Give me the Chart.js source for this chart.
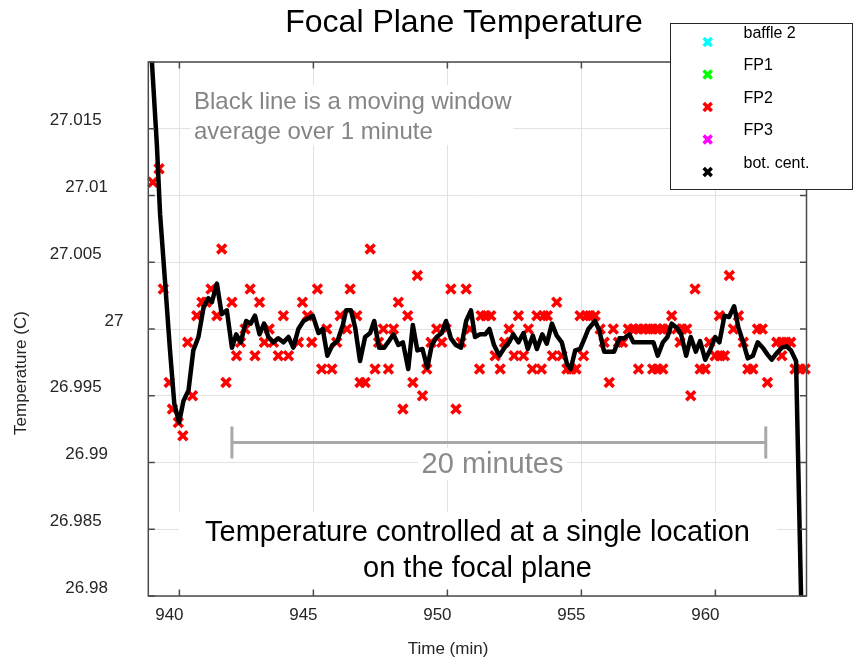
<!DOCTYPE html>
<html>
<head>
<meta charset="utf-8">
<title>Focal Plane Temperature</title>
<script src="https://cdn.jsdelivr.net/npm/chart.js@4.4.0/dist/chart.umd.min.js"></script>
<style>
  html, body { margin: 0; padding: 0; background: #fff; }
  #wrap { width: 853px; height: 659px; }
</style>
</head>
<body>
<div id="wrap"><canvas id="chart" width="853" height="659"></canvas></div>
<script>
// ---- data ----
// FP2 sensor samples (time in min, temperature in C)
const fp2Time = [
  939.01, 939.24, 939.40, 939.62, 939.74, 939.96, 940.13, 940.31, 940.49, 940.65,
  940.84, 941.00, 941.18, 941.40, 941.58, 941.74, 941.96, 942.13, 942.28, 942.45,
  942.64, 942.82, 942.99, 943.17, 943.35, 943.51, 943.69, 943.88, 944.07, 944.44,
  944.59, 944.78, 944.94, 945.15, 945.31, 945.50, 945.69, 945.87, 946.00, 946.25,
  946.37, 946.62, 946.74, 946.93, 947.12, 947.30, 947.43, 947.61, 947.80, 947.99,
  948.17, 948.34, 948.52, 948.71, 948.88, 949.07, 949.23, 949.39, 949.60, 949.79,
  949.95, 950.13, 950.32, 950.51, 950.70, 950.85, 951.20, 951.26, 951.43, 951.62,
  951.78, 951.97, 952.13, 952.30, 952.49, 952.65, 952.84, 953.02, 953.17, 953.34,
  953.51, 953.59, 953.73, 953.92, 954.08, 954.27, 954.46, 954.62, 954.80, 954.95,
  955.08, 955.18, 955.32, 955.51, 955.70, 955.85, 956.04, 956.19, 956.38, 956.54,
  956.75, 956.94, 957.13, 957.13, 957.31, 957.50, 957.66, 957.66, 957.84, 957.84,
  958.04, 958.04, 958.21, 958.37, 958.56, 958.68, 958.75, 958.93, 959.08, 959.24,
  959.43, 959.62, 959.78, 959.99, 960.15, 960.18, 960.34, 960.52, 960.67, 960.86,
  961.04, 961.21, 961.40, 961.57, 961.75, 961.94, 962.29, 962.48, 962.48, 962.64,
  962.81, 962.97, 963.16, 963.35
];
const fp2Temp = [
  27.011, 27.012, 27.003, 26.996, 26.994, 26.993, 26.992, 26.999, 26.995, 27.001,
  27.002, 27.002, 27.003, 27.001, 27.006, 26.996, 27.002, 26.998, 26.999, 27.000,
  27.003, 26.998, 27.002, 26.999, 27.000, 26.999, 26.998, 27.001, 26.998, 26.999,
  27.002, 27.001, 26.999, 27.003, 26.997, 27.000, 26.997, 26.999, 27.001, 27.000,
  27.003, 27.001, 26.996, 26.996, 27.006, 26.997, 26.999, 27.000, 26.997, 27.000,
  27.002, 26.994, 27.001, 26.996, 27.004, 26.995, 26.997, 26.999, 27.000, 26.999,
  27.000, 27.003, 26.994, 26.999, 27.003, 27.000, 26.997, 27.001, 27.001, 27.001,
  26.998, 26.997, 26.999, 27.000, 26.998, 27.001, 26.998, 27.000, 26.997, 27.001,
  26.997, 27.001, 27.001, 26.998, 27.002, 26.998, 26.997, 26.997, 26.997, 27.001,
  26.998, 27.001, 27.001, 27.001, 27.000, 26.999, 26.996, 27.000, 26.999, 26.999,
  27.000, 27.000, 27.000, 26.997, 27.000, 27.000, 27.000, 26.997, 27.000, 26.997,
  27.000, 26.997, 27.000, 27.001, 27.000, 26.999, 27.000, 27.000, 26.995, 27.003,
  26.997, 26.997, 26.999, 26.998, 27.001, 26.998, 26.998, 27.004, 27.000, 27.001,
  26.999, 26.997, 26.997, 27.000, 27.000, 26.996, 26.999, 26.999, 26.998, 26.999,
  26.999, 26.997, 26.997, 26.997
];

// 1 minute moving window average (black line)
const avgTime = [
  938.93, 939.16, 939.28, 939.47, 939.65, 939.81, 939.99, 940.15, 940.34, 940.52,
  940.71, 940.90, 941.08, 941.21, 941.40, 941.58, 941.77, 941.96, 942.12, 942.29,
  942.49, 942.66, 942.82, 942.99, 943.16, 943.32, 943.51, 943.69, 943.88, 944.07,
  944.25, 944.44, 944.63, 944.81, 944.98, 945.19, 945.35, 945.52, 945.71, 945.90,
  946.10, 946.22, 946.40, 946.56, 946.74, 946.93, 947.12, 947.27, 947.45, 947.64,
  947.82, 947.99, 948.17, 948.34, 948.54, 948.71, 948.88, 949.07, 949.25, 949.42,
  949.60, 949.79, 949.95, 950.13, 950.32, 950.51, 950.70, 950.88, 951.03, 951.22,
  951.41, 951.57, 951.74, 951.94, 952.13, 952.30, 952.46, 952.65, 952.84, 953.00,
  953.19, 953.34, 953.54, 953.71, 953.90, 954.08, 954.27, 954.46, 954.60, 954.77,
  954.95, 955.14, 955.26, 955.51, 955.67, 955.85, 956.04, 956.22, 956.42, 956.60,
  956.79, 956.94, 957.13, 957.31, 957.50, 957.69, 957.85, 958.04, 958.21, 958.37,
  958.56, 958.72, 958.91, 959.08, 959.27, 959.43, 959.62, 959.80, 959.99, 960.15,
  960.34, 960.51, 960.70, 960.86, 961.04, 961.21, 961.40, 961.58, 961.77, 961.94,
  962.10, 962.29, 962.48, 962.66, 962.82, 963.01, 963.25
];
const avgTemp = [
  27.0215, 27.0138, 27.0086, 27.0034, 26.9984, 26.9944, 26.9930, 26.9946, 26.9954, 26.9984,
  26.9994, 27.0016, 27.0023, 27.0020, 27.0034, 27.0011, 27.0014, 26.9986, 26.9996, 26.9990,
  27.0006, 27.0004, 27.0010, 26.9996, 27.0004, 26.9994, 26.9990, 26.9993, 26.9990, 26.9994,
  26.9986, 27.0000, 27.0006, 27.0008, 27.0010, 26.9997, 27.0000, 26.9980, 26.9988, 26.9991,
  27.0003, 27.0014, 27.0014, 27.0001, 26.9976, 26.9994, 26.9997, 27.0006, 26.9986, 26.9986,
  26.9991, 26.9996, 26.9988, 26.9990, 26.9970, 27.0003, 26.9984, 26.9985, 26.9971, 26.9988,
  26.9994, 26.9997, 27.0006, 26.9993, 26.9988, 26.9986, 27.0006, 27.0014, 26.9994, 26.9996,
  26.9996, 27.0000, 26.9988, 26.9980, 26.9986, 26.9990, 26.9996, 26.9990, 26.9997, 26.9985,
  26.9995, 26.9985, 26.9996, 26.9989, 27.0004, 26.9995, 26.9990, 26.9974, 26.9970, 26.9984,
  26.9985, 26.9994, 27.0000, 27.0006, 26.9999, 26.9983, 26.9983, 26.9983, 26.9993, 26.9993,
  26.9996, 26.9990, 26.9990, 26.9990, 26.9990, 26.9990, 26.9980, 26.9990, 26.9994, 27.0004,
  27.0001, 26.9996, 26.9980, 26.9994, 26.9983, 26.9991, 26.9977, 26.9984, 26.9994, 26.9990,
  27.0010, 27.0009, 27.0017, 27.0001, 26.9990, 26.9978, 26.9980, 26.9990, 26.9986, 26.9981,
  26.9977, 26.9982, 26.9986, 26.9987, 26.9984, 26.9976, 26.9750
];

// legend entries (only FP2 has samples inside the window)
const seriesNames = ['baffle 2', 'FP1', 'FP2', 'FP3', 'bot. cent.'];
const seriesColors = ['#00ffff', '#00ff00', '#ff0000', '#ff00ff', '#000000'];

// axis limits and ticks
const xMin = 938.84, xMax = 963.40, xStep = 5;
const yMin = 26.98, yMax = 27.02, yStep = 0.005;

// "20 minutes" scale bar (time from / to, temperature level)
const barStart = 941.96, barEnd = 961.88, barLevel = 26.9915;

const FONT = '"Liberation Sans", Arial, Helvetica, sans-serif';
const AXIS_COLOR = '#262626';

function toPoints(xs, ys) {
    return xs.map((t, i) => ({ x: t, y: ys[i] }));
}

function line(ctx, x1, y1, x2, y2) {
    ctx.beginPath();
    ctx.moveTo(x1, y1);
    ctx.lineTo(x2, y2);
    ctx.stroke();
}

// draw a matlab style "x" marker
function cross(ctx, x, y, r, color) {
    ctx.strokeStyle = color;
    ctx.lineWidth = 3.5;
    line(ctx, x - r, y - r, x + r, y + r);
    line(ctx, x - r, y + r, x + r, y - r);
}

//annotations under the data: text boxes with white background and the scale bar
const notesPlugin = {
    id: 'notes',
    beforeDatasetsDraw(chart) {
        const ctx = chart.ctx;
        const xs = chart.scales.x, ys = chart.scales.y;
        ctx.save();
        ctx.fillStyle = '#fff';
        ctx.fillRect(191, 85, 322, 60);
        ctx.fillRect(418, 448, 149, 32);
        ctx.fillRect(178.5, 512, 598.5, 84);

        ctx.textBaseline = 'middle';
        ctx.fillStyle = '#858585';
        ctx.font = '24px ' + FONT;
        ctx.textAlign = 'left';
        ctx.fillText('Black line is a moving window', 194, 102);
        ctx.fillText('average over 1 minute', 194, 132);

        // scale bar
        var x1 = xs.getPixelForValue(barStart);
        var x2 = xs.getPixelForValue(barEnd);
        var yb = ys.getPixelForValue(barLevel);
        ctx.strokeStyle = '#a8a8a8';
        ctx.lineWidth = 3;
        line(ctx, x1, yb, x2, yb);
        line(ctx, x1, yb - 16, x1, yb + 16);
        line(ctx, x2, yb - 16, x2, yb + 16);

        ctx.fillStyle = '#8a8a8a';
        ctx.font = '29px ' + FONT;
        ctx.textAlign = 'center';
        ctx.fillText('20 minutes', 492.5, 465);

        ctx.fillStyle = '#000';
        ctx.fillText('Temperature controlled at a single location', 477.5, 533);
        ctx.fillText('on the focal plane', 477.5, 569);
        ctx.restore();
    },
    afterDraw(chart) {
        const ctx = chart.ctx;
        const a = chart.chartArea;
        const xs = chart.scales.x, ys = chart.scales.y;
        ctx.save();

        // box + inward ticks
        ctx.strokeStyle = '#4a4a4a';
        ctx.lineWidth = 1.5;
        ctx.strokeRect(a.left, a.top, a.right - a.left, a.bottom - a.top);
        xs.ticks.forEach(function (t) {
            var px = xs.getPixelForValue(t.value);
            line(ctx, px, a.bottom, px, a.bottom - 6.5);
            line(ctx, px, a.top, px, a.top + 6.5);
        });
        ys.ticks.forEach(function (t) {
            var py = ys.getPixelForValue(t.value);
            line(ctx, a.left, py, a.left + 6.5, py);
            line(ctx, a.right, py, a.right - 6.5, py);
        });

        // y tick labels
        ctx.fillStyle = AXIS_COLOR;
        ctx.font = '17px ' + FONT;
        ctx.textAlign = 'right';
        ctx.textBaseline = 'middle';
        ys.ticks.forEach(function (t) {
            var v = +t.value.toFixed(3);
            if (v > 27.016) return;
            var label = String(v);
            var w = ctx.measureText(label).width;
            ctx.fillText(label, 101 + 0.66 * (53 - w), ys.getPixelForValue(t.value) - 8);
        });

        // axis titles
        ctx.textAlign = 'center';
        ctx.fillText('Time (min)', 448, 649);
        ctx.save();
        ctx.translate(21, 373);
        ctx.rotate(-Math.PI / 2);
        ctx.fillText('Temperature (C)', 0, 0);
        ctx.restore();

        // title
        ctx.fillStyle = '#000';
        ctx.font = '32px ' + FONT;
        ctx.fillText('Focal Plane Temperature', 464, 23);

        // legend
        ctx.fillStyle = '#fff';
        ctx.fillRect(670.5, 23.5, 182, 166);
        ctx.strokeStyle = AXIS_COLOR;
        ctx.lineWidth = 1;
        ctx.strokeRect(670.5, 23.5, 182, 166);
        ctx.font = '16px ' + FONT;
        ctx.textAlign = 'left';
        seriesNames.forEach(function (name, i) {
            var yy = 42 + i * 32.5;
            cross(ctx, 707.7, yy, 4, seriesColors[i]);
            ctx.fillStyle = '#000';
            ctx.fillText(name, 743.5, yy - 8.5);
        });
        ctx.restore();
    }
};

const datasets = [
    {
        label: 'moving average',
        data: toPoints(avgTime, avgTemp),
        showLine: true,
        borderColor: '#000',
        borderWidth: 4.5,
        borderJoinStyle: 'round',
        pointRadius: 0,
        tension: 0,
        clip: 0,
        order: 0
    }
];
seriesNames.forEach(function (name, i) {
    datasets.push({
        label: name,
        data: name == 'FP2' ? toPoints(fp2Time, fp2Temp) : [],
        showLine: false,
        pointStyle: 'crossRot',
        pointRadius: 6.3,
        pointBorderWidth: 3.6,
        borderColor: seriesColors[i],
        backgroundColor: seriesColors[i],
        clip: false,
        order: 1
    });
});

new Chart(document.getElementById('chart'), {
    type: 'scatter',
    data: { datasets: datasets },
    options: {
        responsive: false,
        animation: false,
        devicePixelRatio: 1,
        layout: { padding: { top: 62, right: 46.5, left: 0, bottom: 0 } },
        plugins: {
            legend: { display: false },
            tooltip: { enabled: false },
            title: { display: false }
        },
        scales: {
            x: {
                type: 'linear',
                min: xMin,
                max: xMax,
                afterFit: function (s) { s.height = 63; },
                grid: { color: '#e2e2e2', lineWidth: 1, drawTicks: false },
                border: { display: false },
                ticks: {
                    stepSize: xStep,
                    includeBounds: false,
                    autoSkip: false,
                    maxRotation: 0,
                    labelOffset: -10,
                    padding: 9,
                    color: AXIS_COLOR,
                    font: { family: FONT, size: 17 }
                }
            },
            y: {
                type: 'linear',
                min: yMin,
                max: yMax,
                afterFit: function (s) { s.width = 148.3; },
                grid: { color: '#e2e2e2', lineWidth: 1, drawTicks: false },
                border: { display: false },
                ticks: { stepSize: yStep, display: false }
            }
        }
    },
    plugins: [notesPlugin]
});
</script>
</body>
</html>
